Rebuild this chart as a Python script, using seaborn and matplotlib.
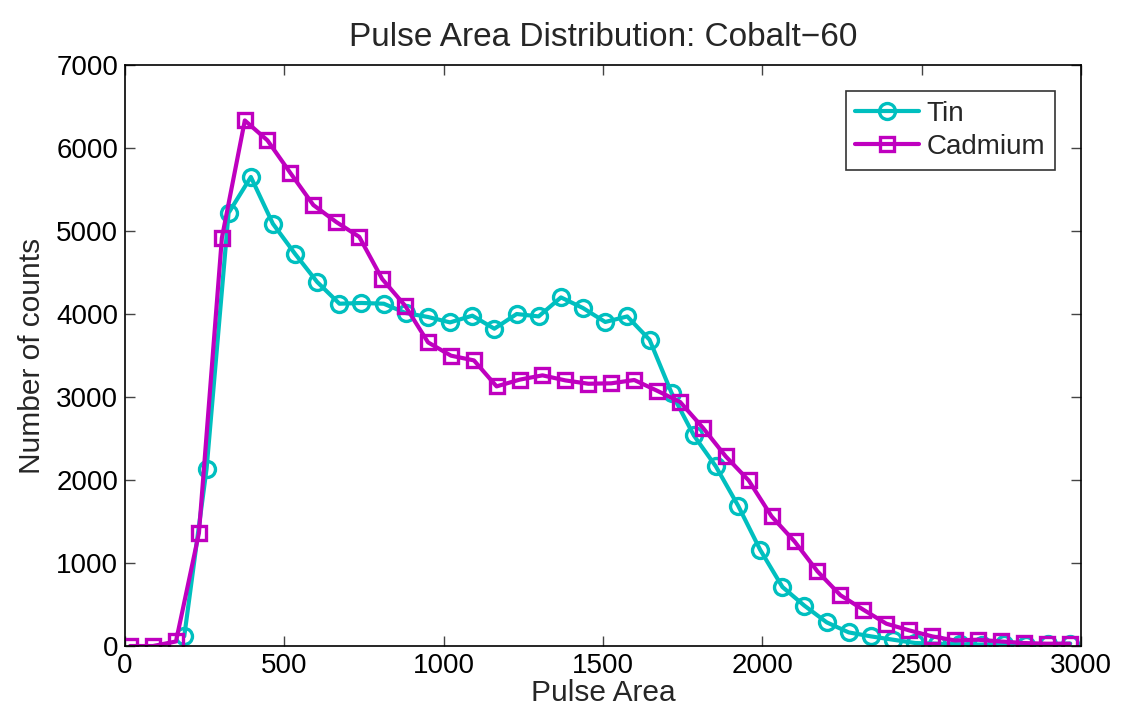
import numpy as np
import pandas as pd
import matplotlib
matplotlib.use("Agg")
import matplotlib.pyplot as plt
import seaborn as sns

tin_x = [186, 256, 325, 395, 464, 534, 603, 673, 742, 812, 881, 951, 1020, 1090,
         1159, 1229, 1298, 1368, 1437, 1507, 1576, 1646, 1715, 1785, 1854, 1924,
         1993, 2063, 2132, 2202, 2271, 2341, 2410, 2480, 2549, 2619, 2688, 2758,
         2827, 2897, 2966]
tin_y = [118, 2135, 5217, 5651, 5088, 4723, 4386, 4124, 4133, 4124, 4012, 3964,
         3899, 3980, 3823, 4000, 3971, 4200, 4072, 3904, 3971, 3690, 3050, 2537,
         2164, 1690, 1160, 711, 486, 285, 164, 116, 76, 36, 28, 22, 18, 20, 18,
         20, 30]

cad_x = [16, 88, 160, 232, 304, 376, 447, 519, 591, 663, 735, 807, 879, 951,
         1023, 1095, 1166, 1238, 1310, 1382, 1454, 1526, 1598, 1670, 1742, 1814,
         1885, 1957, 2029, 2101, 2173, 2245, 2317, 2389, 2461, 2533, 2604, 2676,
         2748, 2820, 2892, 2964]
cad_y = [0, 0, 55, 1360, 4916, 6332, 6092, 5699, 5313, 5108, 4930, 4422, 4100,
         3658, 3498, 3441, 3128, 3209, 3261, 3200, 3160, 3165, 3205, 3075, 2940,
         2627, 2285, 1995, 1562, 1260, 899, 612, 437, 269, 188, 116, 67, 76, 55,
         36, 28, 28]

x_ticks = [0, 500, 1000, 1500, 2000, 2500, 3000]
y_ticks = [0, 1000, 2000, 3000, 4000, 5000, 6000, 7000]

sns.set_theme(style="white")
plt.rcParams['font.family'] = ['Liberation Sans', 'DejaVu Sans']
plt.rcParams['axes.unicode_minus'] = True

fig = plt.figure(figsize=(11.22, 7.19), dpi=100)
ax = fig.add_axes([0.1114, 0.1015, 0.8521, 0.8081])

tin_col = '#00BFBF'
cad_col = '#BF00BF'

sns.lineplot(x=tin_x, y=tin_y, ax=ax, color=tin_col, linewidth=3.0, marker='o',
             markersize=11.5, markerfacecolor='none', markeredgecolor=tin_col,
             markeredgewidth=2.4, label='Tin', sort=False)
sns.lineplot(x=cad_x, y=cad_y, ax=ax, color=cad_col, linewidth=3.0, marker='s',
             markersize=10, markerfacecolor='none', markeredgecolor=cad_col,
             markeredgewidth=2.4, label='Cadmium', sort=False)

ax.set_xlim(0, 3000)
ax.set_ylim(0, 7000)
ax.set_xticks(x_ticks)
ax.set_yticks(y_ticks)
ax.tick_params(axis='both', which='both', direction='in', length=7, width=1,
               colors='#444444', labelcolor='black', labelsize=20,
               top=True, right=True, bottom=True, left=True, pad=5)
for sp in ax.spines.values():
    sp.set_visible(True)
    sp.set_color('black')
    sp.set_linewidth(1.2)

ax.set_xlabel('Pulse Area', fontsize=21.5, labelpad=0)
ax.set_ylabel('Number of counts', fontsize=21.5, labelpad=7)
ax.set_title('Pulse Area Distribution: Cobalt\u221260', fontsize=24, pad=14)

leg = ax.legend(loc='upper right', fontsize=20, frameon=True, fancybox=False,
                edgecolor='black', handlelength=2.3, handletextpad=0.25,
                borderpad=0.35, labelspacing=0.25, borderaxespad=0.95)
leg.get_frame().set_linewidth(1.2)

fig.savefig('out.png', dpi=100, facecolor='white')
